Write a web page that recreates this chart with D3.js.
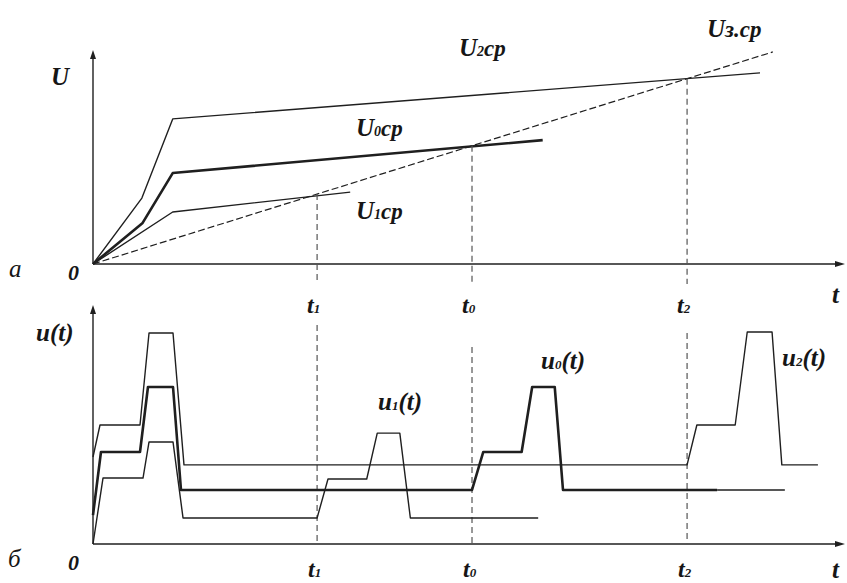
<!DOCTYPE html>
<html><head><meta charset="utf-8">
<script src="https://cdn.jsdelivr.net/npm/d3@7"></script>
<style>
html,body{margin:0;padding:0;background:#fff;}
svg{display:block;}
</style></head>
<body>
<svg id="chart" width="847" height="583"></svg>
<script>
// ---------- data ----------
// time marks (t1, t0, t2) in time units
const markNames = ["1", "0", "2"];
const markTimes = [29.8, 50.4, 79.0];
// top panel: average-voltage curves U(t)
const U2cp = [[0,0],[6.5,30.8],[10.6,67.8],[88.7,89.3]];
const U0cp = [[0,0],[6.6,19.2],[10.6,42.5],[59.8,57.9]];
const U1cp = [[0,0],[10.6,24.3],[34.2,33.6]];
const U3cp = [[0,0],[90.4,99.1]];
// bottom panel: instantaneous signals u(t)
const u2 = [[0,36.4],[0.93,49.8],[6.25,49.8],[7.45,88.3],[10.64,88.3],[12.1,33.1],[79.0,33.1],[80.3,49.8],[85.4,49.8],[87.0,88.7],[90.3,88.7],[91.6,33.1],[96.4,33.1]];
const u0 = [[0,12.1],[1.06,38.5],[6.25,38.5],[7.31,65.7],[10.64,65.7],[11.7,22.6],[50.4,22.6],[51.9,38.5],[57.0,38.5],[58.4,65.7],[61.4,65.7],[62.5,22.6],[83.0,22.6]];
const u0tail = [[83.0,22.6],[92.0,22.6]];
const u1 = [[0,0],[1.33,27.6],[6.65,27.6],[7.45,42.7],[10.64,42.7],[11.97,10.9],[29.8,10.9],[31.25,27.2],[36.4,27.2],[37.8,46.4],[40.8,46.4],[42.2,10.9],[59.2,10.9]];
// top of the dashed guides in the bottom panel (u units)
const lowerGuideTop = [91.6, 82.4, 88.3];

// ---------- scales ----------
const svg = d3.select("#chart");
const x = d3.scaleLinear().domain([0,100]).range([93,845]);
const yTop = d3.scaleLinear().domain([0,100]).range([264,50]);
const yBot = d3.scaleLinear().domain([0,100]).range([544,305]);
const ink = "#1f1f1f";
const serif = "'Liberation Serif', 'DejaVu Serif', 'Times New Roman', serif";

function lineGen(ys){ return d3.line().x(d=>x(d[0])).y(d=>ys(d[1])); }
function path(data, ys, w, dash){
  svg.append("path").attr("d", lineGen(ys)(data))
    .attr("fill","none").attr("stroke",ink).attr("stroke-width",w)
    .attr("stroke-linejoin","round")
    .attr("stroke-dasharray", dash || null);
}
function arrowUp(px, py){
  svg.append("path").attr("d",`M${px},${py} L${px-3},${py+9} L${px+3},${py+9} Z`).attr("fill",ink);
}
function arrowRight(px, py){
  svg.append("path").attr("d",`M${px},${py} L${px-10},${py-3} L${px-10},${py+3} Z`).attr("fill",ink);
}
// label made of parts [{t, size, bold}]
function label(px, py, parts){
  const t = svg.append("text").attr("x",px).attr("y",py)
    .attr("font-family", serif).attr("font-style","italic").attr("fill","#161616");
  parts.forEach(p=>{
    t.append("tspan").text(p.t).attr("font-size",p.size)
      .attr("font-family", serif)
      .attr("font-weight", p.bold===false ? "normal" : "bold");
  });
  return t;
}

// ---------- axes ----------
[yTop, yBot].forEach(ys=>{
  svg.append("line").attr("x1",x(0)).attr("x2",x(0)).attr("y1",ys(0)).attr("y2",ys(100)+4)
    .attr("stroke",ink).attr("stroke-width",1.4);
  svg.append("line").attr("x1",x(0)).attr("x2",x(100)-4).attr("y1",ys(0)).attr("y2",ys(0))
    .attr("stroke",ink).attr("stroke-width",1.4);
  arrowUp(x(0), ys(100));
  arrowRight(x(100), ys(0));
});

// ---------- top panel ----------
path(U2cp, yTop, 1.4);
path(U0cp, yTop, 2.6);
path(U1cp, yTop, 1.4);
path(U3cp, yTop, 1.2, "7,3");

const u3At = t => d3.scaleLinear().domain(U3cp.map(d=>d[0])).range(U3cp.map(d=>d[1]))(t);
markTimes.forEach((t,i)=>{
  svg.append("line").attr("x1",x(t)).attr("x2",x(t))
    .attr("y1",yTop(u3At(t))).attr("y2",yTop(0)+20)
    .attr("stroke","#555").attr("stroke-width",1.2).attr("stroke-dasharray","6,4");
  svg.append("line").attr("x1",x(t)).attr("x2",x(t))
    .attr("y1",yBot(lowerGuideTop[i])).attr("y2",yBot(0))
    .attr("stroke","#555").attr("stroke-width",1.2).attr("stroke-dasharray","6,4");
});

// ---------- bottom panel ----------
path(u2, yBot, 1.4);
path(u0, yBot, 2.6);
path(u0tail, yBot, 1.4);
path(u1, yBot, 1.4);

// ---------- labels ----------
label(51, 85, [{t:"U",size:25}]);
label(68, 280, [{t:"0",size:22}]);
label(9, 277, [{t:"a",size:25,bold:false}]);
label(356, 136, [{t:"U",size:25},{t:"0",size:14},{t:"cp",size:23}]);
label(356, 219, [{t:"U",size:25},{t:"1",size:14},{t:"cp",size:23}]);
label(459, 56, [{t:"U",size:25},{t:"2",size:14},{t:"cp",size:23}]);
label(707, 37, [{t:"U",size:25},{t:"з.cp",size:23}]);
label(832, 303, [{t:"t",size:25}]);
markTimes.forEach((t,i)=>{
  label(x(t)-10, 313, [{t:"t",size:24},{t:markNames[i],size:13}]);
  label(x(t)-9, 577, [{t:"t",size:24},{t:markNames[i],size:13}]);
});
label(832, 578, [{t:"t",size:25}]);

label(36, 341, [{t:"u(t)",size:25}]);
label(8, 567, [{t:"б",size:25,bold:false}]);
label(68, 570, [{t:"0",size:22}]);
label(378, 410, [{t:"u",size:25},{t:"1",size:13},{t:"(t)",size:25}]);
label(541, 369, [{t:"u",size:25},{t:"0",size:13},{t:"(t)",size:25}]);
label(782, 366, [{t:"u",size:25},{t:"2",size:13},{t:"(t)",size:25}]);
</script>
</body></html>
